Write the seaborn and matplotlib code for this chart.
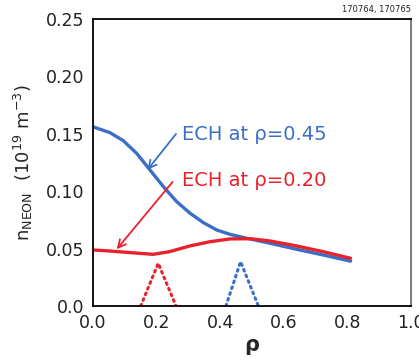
import matplotlib
matplotlib.use("Agg")
import matplotlib.pyplot as plt
import seaborn as sns
import pandas as pd

# ---- data ----
rho_045 = [0.0, 0.053, 0.095, 0.137, 0.179, 0.221, 0.263, 0.305, 0.347, 0.389,
           0.431, 0.483, 0.557, 0.640, 0.724, 0.803, 0.81]
n_045 = [0.156, 0.151, 0.144, 0.133, 0.1185, 0.104, 0.0909, 0.0808, 0.0726, 0.0662,
         0.0624, 0.059, 0.0546, 0.0494, 0.0444, 0.0395, 0.0391]

rho_020 = [0.0, 0.053, 0.116, 0.189, 0.240, 0.305, 0.368, 0.431, 0.494, 0.557,
           0.640, 0.724, 0.803, 0.81]
n_020 = [0.0488, 0.0479, 0.0465, 0.045, 0.0473, 0.0523, 0.056, 0.0584, 0.0586, 0.0566,
         0.0523, 0.0473, 0.042, 0.0416]

dep_rho_020 = [0.150, 0.205, 0.261]
dep_n_020 = [0.0, 0.0372, 0.0]
dep_rho_045 = [0.418, 0.464, 0.520]
dep_n_045 = [0.0, 0.0386, 0.0]

xticks = [0.0, 0.2, 0.4, 0.6, 0.8, 1.0]
yticks = [0.0, 0.05, 0.10, 0.15, 0.20, 0.25]
ytick_labels = ["0.0", "0.05", "0.10", "0.15", "0.20", "0.25"]

BLUE = "#3b6fc6"
RED = "#e8212b"

sns.set_style("white")
plt.rcParams['font.family'] = ['DejaVu Sans']

fig = plt.figure(figsize=(4.19, 3.63), dpi=100)
ax = fig.add_axes([0.222, 0.157, 0.759, 0.791])

df045 = pd.DataFrame({"rho": rho_045, "n": n_045})
df020 = pd.DataFrame({"rho": rho_020, "n": n_020})
sns.lineplot(data=df045, x="rho", y="n", ax=ax, color=BLUE, lw=2.4, sort=True,
             solid_joinstyle="round")
sns.lineplot(data=df020, x="rho", y="n", ax=ax, color=RED, lw=2.4, sort=True,
             solid_joinstyle="round")

sns.lineplot(x=dep_rho_020, y=dep_n_020, ax=ax, color=RED, lw=2.2,
             linestyle=(0, (0.6, 1.4)), dash_capstyle="round")
sns.lineplot(x=dep_rho_045, y=dep_n_045, ax=ax, color=BLUE, lw=2.2,
             linestyle=(0, (0.6, 1.4)), dash_capstyle="round")

# arrows
ax.annotate("", xy=(0.171, 0.1185), xytext=(0.261, 0.1498),
            arrowprops=dict(arrowstyle="->", color=BLUE, lw=1.3,
                            shrinkA=0, shrinkB=0, mutation_scale=14))
ax.annotate("", xy=(0.0745, 0.0494), xytext=(0.25, 0.108),
            arrowprops=dict(arrowstyle="->", color=RED, lw=1.3,
                            shrinkA=0, shrinkB=0, mutation_scale=14))
ax.text(0.279, 0.149, "ECH at ρ=0.45", color=BLUE, fontsize=14,
        va="center", ha="left")
ax.text(0.279, 0.109, "ECH at ρ=0.20", color=RED, fontsize=14,
        va="center", ha="left")

ax.set_xlim(0, 1.0)
ax.set_ylim(0, 0.25)
ax.set_xticks(xticks)
ax.set_xticklabels([f"{t:.1f}" for t in xticks])
ax.set_yticks(yticks)
ax.set_yticklabels(ytick_labels)
ax.tick_params(axis="both", labelsize=12.5, length=0, pad=6, colors="#222222")
ax.set_xlabel("ρ", fontsize=15, fontweight="bold", labelpad=2)
ax.set_ylabel(r"n$_{\mathrm{NEON}}$  (10$^{19}$ m$^{-3}$)", fontsize=13, labelpad=8)

for s in ["left", "bottom", "top"]:
    ax.spines[s].set_color("black")
    ax.spines[s].set_linewidth(1.3)
ax.spines["right"].set_color("#808080")
ax.spines["right"].set_linewidth(1.5)

fig.text(0.981, 0.962, "170764, 170765", fontsize=6, ha="right", va="bottom", color="#222222")

fig.savefig("out.png", dpi=100)
